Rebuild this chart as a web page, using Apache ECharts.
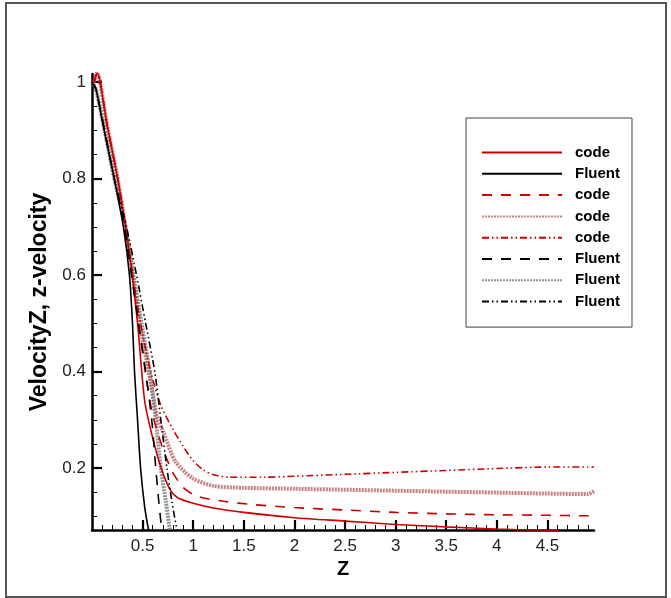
<!DOCTYPE html>
<html>
<head>
<meta charset="utf-8">
<script src="https://cdn.jsdelivr.net/npm/echarts@6/dist/echarts.min.js"></script>
<style>
  html, body { margin: 0; padding: 0; background: #fff; }
  #main { width: 671px; height: 598px; }
</style>
</head>
<body>
<div id="main"></div>
<script>
// tick values
var xMajorTicks = [0.5, 1, 1.5, 2, 2.5, 3, 3.5, 4, 4.5];
var yMajorTicks = [0.2, 0.4, 0.6, 0.8, 1];

// [Z, VelocityZ]
var codeSolid = [[0.02, 1.0], [0.05, 1.02], [0.15, 0.91], [0.265, 0.787], [0.38, 0.63], [0.45, 0.5], [0.52, 0.34], [0.6, 0.262], [0.69, 0.196], [0.78, 0.152], [0.85, 0.138], [1.0, 0.127], [1.2, 0.117], [1.5, 0.108], [2.0, 0.097], [2.5, 0.09], [3.0, 0.083], [3.5, 0.078], [4.0, 0.0735], [4.3, 0.0715], [4.6, 0.07]];
var fluentSolid = [[0, 1.0], [0.04, 0.985], [0.12, 0.9], [0.22, 0.8], [0.31, 0.7], [0.37, 0.6], [0.40, 0.5], [0.42, 0.4], [0.45, 0.3], [0.48, 0.2], [0.52, 0.12], [0.56, 0.07]];
var codeDashed = [[0.02, 1.0], [0.05, 1.02], [0.15, 0.91], [0.265, 0.787], [0.38, 0.63], [0.46, 0.5], [0.54, 0.38], [0.6, 0.31], [0.7, 0.24], [0.8, 0.19], [0.9, 0.16], [1.0, 0.145], [1.1, 0.138], [1.3, 0.131], [1.6, 0.124], [2.0, 0.118], [2.5, 0.113], [3.0, 0.108], [3.5, 0.105], [4.0, 0.103], [4.5, 0.102], [4.9, 0.101], [4.96, 0.106]];
var codeDotted = [[0.02, 1.0], [0.05, 1.02], [0.15, 0.91], [0.265, 0.787], [0.38, 0.63], [0.47, 0.5], [0.56, 0.4], [0.64, 0.31], [0.71, 0.272], [0.825, 0.213], [1.0, 0.178], [1.2, 0.163], [1.5, 0.159], [2.0, 0.157], [2.5, 0.155], [3.0, 0.153], [3.5, 0.151], [4.0, 0.149], [4.5, 0.147], [4.9, 0.146], [4.96, 0.152]];
var codeDashDot = [[0.02, 1.0], [0.05, 1.02], [0.15, 0.91], [0.265, 0.787], [0.38, 0.63], [0.48, 0.5], [0.58, 0.4], [0.68, 0.33], [0.8, 0.28], [0.9, 0.245], [1.0, 0.215], [1.1, 0.196], [1.2, 0.186], [1.35, 0.181], [1.7, 0.181], [2.0, 0.183], [2.5, 0.187], [3.0, 0.191], [3.5, 0.195], [4.0, 0.199], [4.5, 0.202], [4.96, 0.202]];
var fluentDashed = [[0, 1.0], [0.04, 0.985], [0.22, 0.8], [0.32, 0.7], [0.39, 0.6], [0.46, 0.5], [0.53, 0.4], [0.59, 0.3], [0.63, 0.2], [0.66, 0.13], [0.69, 0.07]];
var fluentDotted = [[0, 1.0], [0.04, 0.985], [0.22, 0.8], [0.33, 0.7], [0.41, 0.6], [0.49, 0.5], [0.57, 0.4], [0.63, 0.3], [0.68, 0.2], [0.73, 0.13], [0.77, 0.07]];
var fluentDashDot = [[0, 1.0], [0.04, 0.985], [0.22, 0.8], [0.34, 0.7], [0.44, 0.6], [0.53, 0.5], [0.62, 0.4], [0.68, 0.3], [0.74, 0.2], [0.79, 0.13], [0.84, 0.07]];

var xMinorTicks = [];
for (var i = 1; i < 50; i++) {
  if (i % 5 !== 0) xMinorTicks.push(i / 10);
}
var yMinorTicks = [];
for (var j = 2; j < 20; j++) {
  if (j % 4 !== 0) yMinorTicks.push(j / 20);
}

var RED = "#cc0000";
var font = "Liberation Sans, Arial, Helvetica, sans-serif";
var dashDot = [7, 3, 1.5, 3, 1.5, 3];

function lineSeries(name, data, color, width, type, z) {
  return {
    name: name,
    type: "line",
    data: data,
    symbol: "none",
    showSymbol: false,
    smooth: 0.25,
    z: z || 2,
    lineStyle: { color: color, width: width, type: type },
    itemStyle: { color: color }
  };
}

var chart = echarts.init(document.getElementById("main"));

var option = {
  animation: false,
  backgroundColor: "#fff",
  textStyle: { fontFamily: font },
  graphic: [
    {
      type: "rect",
      shape: { x: 6, y: 3, width: 660, height: 594 },
      style: { fill: "none", stroke: "#555", lineWidth: 2 },
      silent: true
    }
  ],
  grid: { left: 92, right: 77, top: 74, bottom: 68 },
  legend: {
    left: 466,
    top: 118,
    orient: "vertical",
    padding: [27, 12, 18, 15],
    itemGap: 6.3,
    itemWidth: 80,
    itemHeight: 15,
    borderColor: "#444",
    borderWidth: 1,
    selectedMode: false,
    itemStyle: { opacity: 0 },
    formatter: function (name) { return name.split("_")[0]; },
    textStyle: { fontSize: 15, fontWeight: "bold", color: "#000", padding: [0, 0, 0, 8], fontFamily: font },
    data: ["code_1", "Fluent_1", "code_2", "code_3", "code_4", "Fluent_2", "Fluent_3", "Fluent_4"]
  },
  xAxis: [
    {
      type: "value",
      min: 0,
      max: 4.96,
      name: "Z",
      nameLocation: "middle",
      nameGap: 24,
      nameTextStyle: { fontSize: 20, fontWeight: "bold", color: "#000", fontFamily: font },
      axisLine: { show: true, onZero: false, lineStyle: { color: "#000", width: 2.5 } },
      axisTick: { show: true, inside: true, length: 10, customValues: xMajorTicks, lineStyle: { color: "#000", width: 2.2 } },
      axisLabel: { customValues: xMajorTicks, margin: 8, fontSize: 17, color: "#222", fontFamily: font },
      splitLine: { show: false }
    },
    {
      type: "value",
      min: 0,
      max: 4.96,
      position: "bottom",
      axisLine: { show: false },
      axisTick: { show: true, inside: true, length: 5, customValues: xMinorTicks, lineStyle: { color: "#000", width: 1 } },
      axisLabel: { show: false },
      splitLine: { show: false }
    }
  ],
  yAxis: [
    {
      type: "value",
      min: 0.0715,
      max: 1.017,
      name: "VelocityZ, z-velocity",
      nameLocation: "middle",
      nameGap: 30,
      nameTextStyle: { fontSize: 23, fontWeight: "bold", color: "#000", fontFamily: font },
      axisLine: { show: true, onZero: false, lineStyle: { color: "#000", width: 2.5 } },
      axisTick: { show: true, inside: true, length: 10, customValues: yMajorTicks, lineStyle: { color: "#000", width: 2.2 } },
      axisLabel: { customValues: yMajorTicks, margin: 6, fontSize: 17, color: "#222", fontFamily: font },
      splitLine: { show: false }
    },
    {
      type: "value",
      min: 0.0715,
      max: 1.017,
      position: "left",
      axisLine: { show: false },
      axisTick: { show: true, inside: true, length: 5, customValues: yMinorTicks, lineStyle: { color: "#000", width: 1 } },
      axisLabel: { show: false },
      splitLine: { show: false }
    }
  ],
  series: [
    lineSeries("code_1", codeSolid, RED, 1.6, "solid", 3),
    lineSeries("Fluent_1", fluentSolid, "#000", 1.6, "solid", 3),
    lineSeries("code_2", codeDashed, RED, 1.6, [10, 9], 3),
    lineSeries("code_3", codeDotted, "rgba(180,90,90,0.75)", 4, [2, 1], 2),
    lineSeries("code_4", codeDashDot, RED, 1.6, dashDot, 3),
    lineSeries("Fluent_2", fluentDashed, "#000", 1.6, [10, 9], 3),
    lineSeries("Fluent_3", fluentDotted, "rgba(120,120,120,0.8)", 4, [2, 1], 2),
    lineSeries("Fluent_4", fluentDashDot, "#000", 1.6, dashDot, 3)
  ]
};

chart.setOption(option);
</script>
</body>
</html>
